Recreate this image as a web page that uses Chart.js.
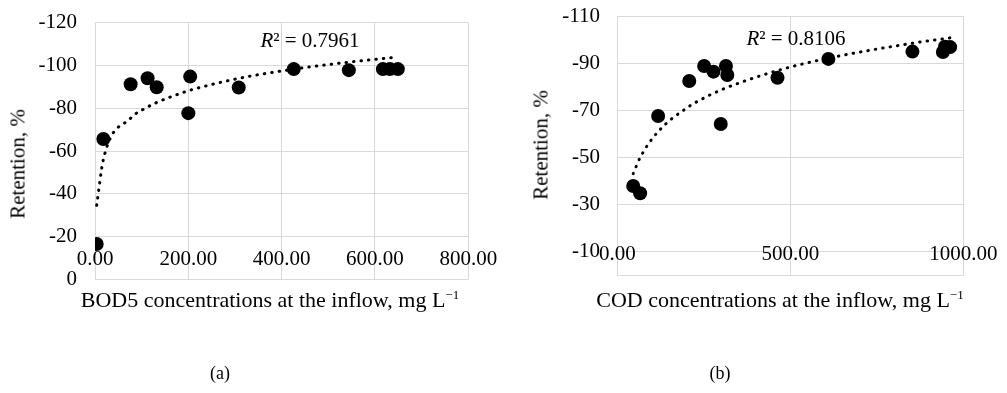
<!DOCTYPE html>
<html>
<head>
<meta charset="utf-8">
<script src="https://cdn.jsdelivr.net/npm/chart.js@4.4.0/dist/chart.umd.min.js"></script>
<style>
  body { margin:0; background:#fff; width:1007px; height:393px; position:relative; overflow:hidden; }
  canvas { position:absolute; top:0; }
  .txt { position:absolute; font-family:"Liberation Serif","Times New Roman",serif; font-size:21px; color:#000; white-space:nowrap; line-height:1; transform:translate(-50%,-50%); }
  .rot { transform:translate(-50%,-50%) rotate(-90deg); }
  .xt { font-size:22px; }
  .txt sup { font-size:13px; vertical-align:8px; line-height:0; }
  .cap { font-size:18px; }
</style>
</head>
<body>
<canvas id="ca" width="500" height="393" style="left:0"></canvas>
<canvas id="cb" width="507" height="393" style="left:500px"></canvas>

<div class="txt rot" style="left:18px;top:164px">Retention, %</div>
<div class="txt rot" style="left:541px;top:145px">Retention, %</div>
<div class="txt xt" style="left:270px;top:300px">BOD5 concentrations at the inflow, mg L<sup>−1</sup></div>
<div class="txt xt" style="left:780px;top:300px">COD concentrations at the inflow, mg L<sup>−1</sup></div>
<div class="txt" style="left:310px;top:40px"><i>R</i>² = 0.7961</div>
<div class="txt" style="left:796px;top:38px"><i>R</i>² = 0.8106</div>
<div class="txt cap" style="left:220px;top:373px">(a)</div>
<div class="txt cap" style="left:720px;top:373px">(b)</div>

<script>
// BOD5 inflow (mg/L) vs retention (%)
var bodX = [3.6, 17.9, 76.4, 112.7, 132.2, 200, 204, 308, 426, 544, 617, 632, 649];
var bodY = [-16.5, -65.6, -91.2, -94.0, -89.8, -77.7, -94.8, -89.7, -98.3, -97.8, -98.3, -98.3, -98.3];
// COD inflow (mg/L) vs retention (%)
var codX = [46, 66, 118, 208, 251, 278, 299, 314, 318, 463, 610, 853, 941, 947, 962];
var codY = [-37.9, -34.8, -67.6, -82.4, -88.8, -86.4, -64.2, -88.8, -85.0, -83.8, -91.8, -94.9, -94.7, -97.0, -96.8];

var bodXTicks = [0, 200, 400, 600, 800];
var bodYTicks = [-120, -100, -80, -60, -40, -20, 0];
var codXTicks = [0, 500, 1000];
var codYTicks = [-110, -90, -70, -50, -30, -10, 0];

var FONT = { family: '"Liberation Serif", "Times New Roman", serif', size: 21 };
var GRID = '#d9d9d9';

// excel style log trendline: least squares of y on ln(x)
function logFit(xs, ys) {
    var n = xs.length, sl = 0, sy = 0, sll = 0, sly = 0;
    for (var i = 0; i < n; i++) {
        var l = Math.log(xs[i]);
        sl += l; sy += ys[i]; sll += l * l; sly += l * ys[i];
    }
    var a = (n * sly - sl * sy) / (n * sll - sl * sl);
    var b = (sy - a * sl) / n;
    return xs.slice().sort(function(p, q) { return p - q; }).map(function(x) {
        return { x: x, y: a * Math.log(x) + b };
    });
}

function drawPlot(id, xs, ys, cfg) {
    var pts = xs.map(function(x, i) { return { x: x, y: ys[i] }; });
    new Chart(document.getElementById(id), {
        type: 'scatter',
        data: {
            datasets: [{
                data: logFit(xs, ys),
                showLine: true,
                borderColor: '#000',
                borderWidth: 3,
                borderDash: [0.5, 7],
                borderCapStyle: 'round',
                cubicInterpolationMode: 'monotone',
                pointRadius: 0
            }, {
                data: pts,
                backgroundColor: '#000',
                borderWidth: 0,
                pointRadius: 7
            }]
        },
        options: {
            responsive: false,
            animation: false,
            layout: { padding: cfg.pad },
            plugins: { legend: { display: false }, tooltip: { enabled: false } },
            scales: {
                x: {
                    type: 'linear',
                    min: cfg.xt[0],
                    max: cfg.xt[cfg.xt.length - 1],
                    position: { y: cfg.xAxisAt },
                    afterBuildTicks: function(s) { s.ticks = cfg.xt.map(function(v) { return { value: v }; }); },
                    afterFit: function(s) { s.paddingLeft = 0; s.paddingRight = 0; },
                    grid: { color: GRID, lineWidth: 1, drawTicks: false },
                    border: { display: false },
                    ticks: {
                        autoSkip: false, maxRotation: 0, padding: 2, color: '#000', font: FONT,
                        callback: function(v) { return Number(v).toFixed(2); }
                    }
                },
                y: {
                    type: 'linear',
                    reverse: true,
                    min: cfg.yt[0],
                    max: 0,
                    afterBuildTicks: function(s) { s.ticks = cfg.yt.map(function(v) { return { value: v }; }); },
                    afterFit: function(s) { s.width = cfg.yw; s.paddingTop = 0; s.paddingBottom = 0; },
                    grid: { color: GRID, lineWidth: 1, drawTicks: false },
                    border: { display: false },
                    ticks: {
                        padding: cfg.ypad, color: '#000', font: FONT,
                        callback: function(v) { return (v === 0 && cfg.hideZero) ? '' : String(v); }
                    }
                }
            }
        }
    });
}

drawPlot('ca', bodX, bodY, {
    xt: bodXTicks, yt: bodYTicks, xAxisAt: -16,
    pad: { left: 0, top: 22.7, right: 31.7, bottom: 113.7 },
    yw: 95, ypad: 18, hideZero: false
});
drawPlot('cb', codX, codY, {
    xt: codXTicks, yt: codYTicks, xAxisAt: -15,
    pad: { left: 0, top: 16, right: 43.7, bottom: 117.7 },
    yw: 117.3, ypad: 17.3, hideZero: true
});
</script>
</body>
</html>
